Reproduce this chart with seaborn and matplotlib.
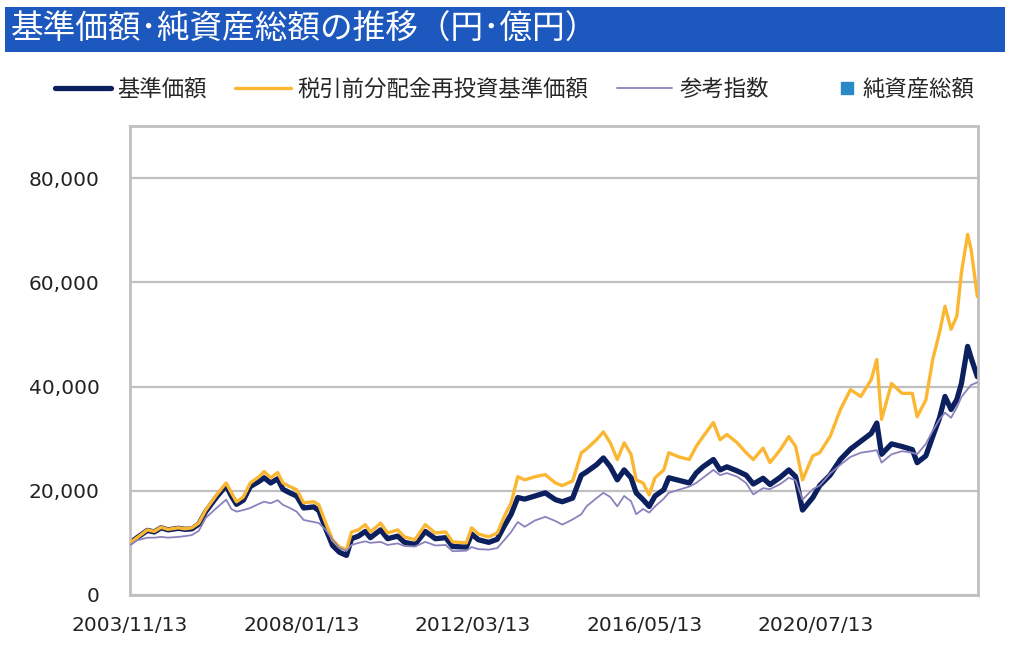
# 基準価額・純資産総額の推移 chart

import pandas as pd
import numpy as np
import matplotlib.pyplot as plt
from matplotlib.lines import Line2D
from matplotlib.patches import Rectangle
import seaborn as sns

dates = [
    "2003-11-13",
    "2004-01-15", "2004-04-15", "2004-06-15", "2004-08-15", "2004-10-15",
    "2005-01-15", "2005-03-15", "2005-05-15", "2005-07-15", "2005-09-15", "2005-12-20",
    "2006-03-15", "2006-05-01", "2006-06-15", "2006-08-15", "2006-10-15",
    "2007-01-01", "2007-02-15", "2007-04-15", "2007-06-15", "2007-08-01", "2007-10-01", "2007-12-01",
    "2008-02-01", "2008-05-01", "2008-06-15", "2008-08-15", "2008-10-15", "2008-12-15",
    "2009-02-15", "2009-04-01", "2009-06-01", "2009-08-01", "2009-09-15", "2009-12-15",
    "2010-02-15", "2010-05-15", "2010-07-15", "2010-10-15",
    "2011-01-15", "2011-04-15", "2011-07-15", "2011-09-15",
    "2012-01-15", "2012-03-01", "2012-05-01", "2012-08-01", "2012-10-15", "2012-12-15",
    "2013-02-15", "2013-04-15", "2013-06-15", "2013-09-15", "2013-12-15",
    "2014-03-15", "2014-05-15", "2014-08-15", "2014-10-31", "2014-12-15",
    "2015-03-15", "2015-05-15", "2015-07-15", "2015-09-15", "2015-11-15",
    "2016-01-15", "2016-03-01", "2016-05-01", "2016-06-24", "2016-08-15", "2016-11-01", "2016-12-15",
    "2017-03-15", "2017-06-15", "2017-08-15", "2017-10-15",
    "2018-01-15", "2018-03-15", "2018-05-15", "2018-08-15", "2018-11-01",
    "2019-01-04", "2019-04-01", "2019-06-01", "2019-09-01", "2019-11-15",
    "2020-01-15", "2020-03-16", "2020-06-15", "2020-08-15", "2020-11-15",
    "2021-02-15", "2021-05-15", "2021-08-15", "2021-11-15",
    "2022-01-04", "2022-02-15", "2022-05-15", "2022-08-15", "2022-11-15", "2022-12-28",
    "2023-03-15", "2023-05-15", "2023-07-15", "2023-09-01", "2023-10-25", "2023-12-15",
    "2024-01-25", "2024-03-20", "2024-04-20", "2024-06-14",
]

# 税引前分配金再投資基準価額
reinvested = [
    10000,
    11000, 12500, 12200, 13000, 12600,
    12900, 12700, 12900, 13800, 16300, 19200,
    21500, 19600, 17900, 18800, 21500,
    22700, 23700, 22500, 23500, 21500, 20800, 20200,
    17700, 17900, 17300, 13800, 10600, 9200,
    8700, 12100, 12500, 13500, 12100, 13800,
    11900, 12500, 11150, 10600,
    13500, 11900, 12100, 10200,
    10000, 12900, 11700, 11150, 11900, 15000,
    17700, 22700, 22100, 22700, 23100,
    21500, 21000, 21900, 27300, 28000,
    29800, 31300, 29200, 26000, 29200,
    27000, 22100, 21500, 19200, 22500, 24000, 27300,
    26500, 26000, 28500, 30400,
    33100, 29800, 30800, 29200, 27300,
    26000, 28200, 25400, 27900, 30400,
    28500, 22100, 26700, 27300, 30400,
    35600, 39400, 38100, 41300,
    45200, 33700, 40600, 38700, 38700, 34200,
    37400, 45200, 50400, 55400, 51000, 53500,
    61900, 69200, 66300, 57300,
]

# 基準価額
nav = [
    10000,
    11000, 12400, 12100, 12900, 12500,
    12800, 12600, 12700, 13600, 16000, 18800,
    21000, 19000, 17400, 18200, 20800,
    21800, 22500, 21500, 22300, 20300, 19600, 19000,
    16700, 16900, 16200, 12700, 9500, 8200,
    7600, 10800, 11300, 12200, 11000, 12500,
    10800, 11300, 10100, 9700,
    12200, 10800, 11000, 9300,
    9200, 11700, 10600, 10100, 10700, 13200,
    15500, 18700, 18400, 19000, 19600,
    18300, 17900, 18600, 23000, 23600,
    25000, 26300, 24600, 22100, 24000,
    22500, 19600, 18300, 17000, 19000, 20200, 22500,
    22000, 21500, 23400, 24600,
    26000, 24000, 24600, 23800, 23000,
    21300, 22400, 21200, 22600, 24000,
    22700, 16300, 18700, 21000, 23000,
    26000, 28000, 29500, 31000,
    33000, 27000, 29000, 28500, 27900, 25400,
    26700, 30400, 34000, 38100, 35600, 37500,
    40600, 47700, 45500, 41900,
]

# 参考指数
benchmark = [
    9600,
    10500, 11000, 11000, 11150, 11000,
    11150, 11300, 11500, 12300, 14800, 16700,
    18300, 16500, 16000, 16300, 16700,
    17500, 17900, 17600, 18200, 17300, 16700, 16000,
    14400, 14000, 13800, 12500, 10600, 9000,
    8500, 9600, 10000, 10300, 10000, 10200,
    9600, 9900, 9400, 9300,
    10200, 9500, 9600, 8400,
    8500, 9200, 8800, 8700, 9000, 10500,
    12100, 14000, 13100, 14300, 15000,
    14200, 13500, 14500, 15500, 17000,
    18600, 19600, 18800, 17000, 19000,
    18000, 15500, 16500, 15800, 17000, 18500, 19600,
    20200, 20800, 21500, 22500,
    24000, 23000, 23400, 22700, 21500,
    19300, 20500, 20300, 21300, 22500,
    22000, 18300, 20300, 21000, 23300,
    25000, 26500, 27300, 27600,
    27800, 25400, 27000, 27600, 27300, 27000,
    29000, 31500, 33700, 35000, 34000, 36000,
    38000, 39500, 40300, 40800,
]

xtick_dates = ["2003-11-13", "2008-01-13", "2012-03-13", "2016-05-13", "2020-07-13"]
yticks = [0, 20000, 40000, 60000, 80000]

NAVY = "#0c1f5e"
GOLD = "#fbb732"
LAVENDER = "#8b82bd"
BLUE_SQ = "#2a8ac8"
GRID = "#c0c0c0"

sns.set_theme(style="white")
plt.rcParams["font.family"] = ["Noto Sans CJK JP", "DejaVu Sans"]

df = pd.DataFrame({
    "date": pd.to_datetime(dates),
    "基準価額": nav,
    "税引前分配金再投資基準価額": reinvested,
    "参考指数": benchmark,
})

fig = plt.figure(figsize=(10.24, 6.54), dpi=100)
ax = fig.add_axes([130 / 1024, 59 / 654, 848 / 1024, 469 / 654])

sns.lineplot(data=df, x="date", y="基準価額", ax=ax, color=NAVY, linewidth=3.8, zorder=2)
sns.lineplot(data=df, x="date", y="税引前分配金再投資基準価額", ax=ax, color=GOLD, linewidth=2.4, zorder=3)
sns.lineplot(data=df, x="date", y="参考指数", ax=ax, color=LAVENDER, linewidth=1.3, zorder=4)

ax.set_ylim(0, 90000)
ax.set_yticks(yticks)
ax.set_yticklabels([f"{v:,}" for v in yticks],
                   family="DejaVu Sans", fontsize=14.5, color="#222222")
ax.yaxis.grid(True, color=GRID, linewidth=1.6)
ax.xaxis.grid(False)
ax.set_xlim(pd.Timestamp("2003-11-13"), pd.Timestamp("2024-06-20"))
xt = pd.to_datetime(xtick_dates)
ax.set_xticks(xt)
ax.set_xticklabels([d.strftime("%Y/%m/%d") for d in xt],
                   family="DejaVu Sans", fontsize=14.5, color="#222222")
ax.tick_params(axis="x", direction="in", length=6, width=1.6, color=GRID, pad=15)
ax.tick_params(axis="y", length=0, pad=22)
ax.set_xlabel("")
ax.set_ylabel("")
for s in ax.spines.values():
    s.set_color(GRID)
    s.set_linewidth(2)

# title bar
fig.patches.append(Rectangle((5 / 1024, (654 - 52) / 654), 1000 / 1024, 45 / 654,
                             transform=fig.transFigure, facecolor="#1c58bd",
                             edgecolor="none", zorder=0))
fig.text(11 / 1024, (654 - 30) / 654, "基準価額･純資産総額の推移（円･億円）",
         color="white", fontsize=23.5, va="center", ha="left")

# legend
line_handles = [
    Line2D([], [], color=NAVY, linewidth=3.8),
    Line2D([], [], color=GOLD, linewidth=2.4),
    Line2D([], [], color=LAVENDER, linewidth=1.3),
]
fig.legend(line_handles, ["基準価額", "税引前分配金再投資基準価額", "参考指数"],
           loc="center left", bbox_to_anchor=(55 / 1024, (654 - 89) / 654),
           ncol=3, frameon=False, fontsize=16.1, handlelength=2.5,
           handletextpad=0.3, columnspacing=1.25, borderpad=0, borderaxespad=0)
sq = Line2D([], [], marker="s", linestyle="none", color=BLUE_SQ, markersize=8)
fig.legend([sq], ["純資産総額"], loc="center left",
           bbox_to_anchor=(838 / 1024, (654 - 89) / 654), frameon=False, fontsize=16.1,
           handlelength=0.8, handletextpad=0.3, borderpad=0, borderaxespad=0)

fig.savefig("out.png", dpi=100)
